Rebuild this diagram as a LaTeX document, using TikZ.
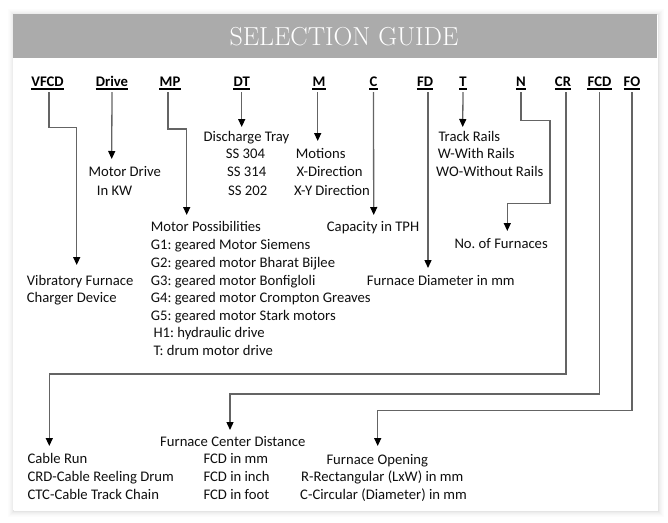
\documentclass[tikz,border=0pt]{standalone}
\usepackage{fontspec}
\usetikzlibrary{arrows.meta}
\newfontfamily\calfont{Carlito}
\frenchspacing
\definecolor{hdrgray}{RGB}{171,171,171}
\definecolor{linegray}{RGB}{100,100,100}
\definecolor{txt}{RGB}{15,15,15}
\tikzset{
  txtnode/.style={anchor=west, inner sep=0pt, text height=11pt, text depth=2pt, text=txt, font=\calfont\fontsize{14.67}{18}\selectfont\frenchspacing},
  codelbl/.style={anchor=base, inner sep=0pt, text height=11pt, text depth=5.5pt, text=black, font=\calfont\bfseries\fontsize{14.67}{18}\selectfont},
  ul/.style={black, line width=1.4pt},
  conn/.style={draw=linegray, line width=1.3pt, -{Triangle[length=8pt,width=7pt,color=black]}},
  plainconn/.style={draw=linegray, line width=1.3pt}
}
\begin{document}
\begin{tikzpicture}[x=1pt,y=-1pt]
\useasboundingbox (0,0) rectangle (668,522);
% shadow
\foreach \i/\o in {1/0.10,2/0.07,3/0.05,4/0.035,5/0.02,6/0.01}{
  \draw[black, opacity=\o, line width=1pt] (13-\i+0.5+1,14-\i+0.5+1) rectangle (657+\i-0.5+1,510+\i-0.5+1);
}
\fill[white] (13,14) rectangle (657,510);
\fill[hdrgray] (13,14) rectangle (657,58);
\node[text=white, inner sep=0pt, font=\rmfamily\fontsize{26}{30}\selectfont] (title) at (344,37) {SELECTION GUIDE};

% code labels
\node[codelbl] (vfcd) at (47.5,86.5) {VFCD};
\node[codelbl] (drive) at (112,86.5) {Drive};
\node[codelbl] (mp) at (170,86.5) {MP};
\node[codelbl] (dt) at (241.7,86.5) {DT};
\node[codelbl] (m) at (319,86.5) {M};
\node[codelbl] (c) at (373.5,86.5) {C};
\node[codelbl] (fd) at (425,86.5) {FD};
\node[codelbl] (t) at (463,86.5) {T};
\node[codelbl] (n) at (521,86.5) {N};
\node[codelbl] (cr) at (563,86.5) {CR};
\node[codelbl] (fcd) at (599.5,86.5) {FCD};
\node[codelbl] (fo) at (632,86.5) {FO};
\foreach \n in {vfcd,drive,mp,dt,m,c,fd,t,n,cr,fcd,fo}{
  \draw[ul] ([yshift=-2.5pt]\n.base west) -- ([yshift=-2.5pt]\n.base east);
}

% description texts
\node[txtnode] (md1) at (88.3,172.3) {Motor Drive};
\node[txtnode] (md2) at (96.7,190.7) {In KW};
\node[txtnode] (dt1) at (203.3,136.7) {Discharge Tray};
\node[txtnode] (dt2) at (225.7,154.3) {SS 304};
\node[txtnode] (dt3) at (227,172.3) {SS 314};
\node[txtnode] (dt4) at (228,190.7) {SS 202};
\node[txtnode] (mo1) at (295.7,154.3) {Motions};
\node[txtnode] (mo2) at (296.3,172.3) {X-Direction};
\node[txtnode] (mo3) at (294,190.7) {X-Y Direction};
\node[txtnode] (mp1) at (150.7,226.7) {Motor Possibilities};
\node[txtnode] (mp2) at (150.7,244.7) {G1: geared Motor Siemens};
\node[txtnode] (mp3) at (150.7,263) {G2: geared motor Bharat Bijlee};
\node[txtnode] (mp4) at (150.7,281) {G3: geared motor Bonfigloli};
\node[txtnode] (mp5) at (150.7,298) {G4: geared motor Crompton Greaves};
\node[txtnode] (mp6) at (150.7,315.5) {G5: geared motor Stark motors};
\node[txtnode] (mp7) at (153.3,333) {H1: hydraulic drive};
\node[txtnode] (mp8) at (153.3,351) {T: drum motor drive};
\node[txtnode] (vf1) at (26.7,281) {Vibratory Furnace};
\node[txtnode] (vf2) at (26.7,298) {Charger Device};
\node[txtnode] (cap) at (326.7,226.7) {Capacity in TPH};
\node[txtnode] (tr1) at (438.3,136.7) {Track Rails};
\node[txtnode] (tr2) at (437.7,154.3) {W-With Rails};
\node[txtnode] (tr3) at (436,172.3) {WO-Without Rails};
\node[txtnode] (nf) at (454.3,244.3) {No. of Furnaces};
\node[txtnode] (fdm) at (366.7,280.7) {Furnace Diameter in mm};
\node[txtnode] (cr1) at (27.3,459) {Cable Run};
\node[txtnode] (cr2) at (27.3,477) {CRD-Cable Reeling Drum};
\node[txtnode] (cr3) at (27.3,495) {CTC-Cable Track Chain};
\node[txtnode] (fc1) at (160,441.7) {Furnace Center Distance};
\node[txtnode] (fc2) at (203.3,459) {FCD in mm};
\node[txtnode] (fc3) at (203.3,477) {FCD in inch};
\node[txtnode] (fc4) at (203.3,495) {FCD in foot};
\node[txtnode] (fo1) at (326.3,459.5) {Furnace Opening};
\node[txtnode] (fo2) at (301,477) {R-Rectangular (LxW) in mm};
\node[txtnode] (fo3) at (300,495) {C-Circular (Diameter) in mm};

% arrow end points
\coordinate (tvfcd) at (76.7,265);
\coordinate (tdrive) at (111.7,159);
\coordinate (tmp) at (186.7,215);
\coordinate (tdt) at (241.7,127);
\coordinate (tm) at (317.7,141);
\coordinate (tc) at (373.7,215);
\coordinate (tfd) at (428,268);
\coordinate (tt) at (462.7,127);
\coordinate (tn) at (507.3,231);
\coordinate (tcr) at (49.3,446);
\coordinate (tfcd) at (230,430);
\coordinate (tfo) at (377.7,446);

% connectors
\draw[conn] ([xshift=1.5pt]vfcd.south) |- (tvfcd |- 0,127.7) -- (tvfcd);
\draw[conn] (drive.south) -- (tdrive);
\draw[conn] ([xshift=-2pt]mp.south) |- (tmp |- 0,129) -- (tmp);
\draw[conn] (dt.south) -- (tdt);
\draw[conn] ([xshift=-1.3pt]m.south) -- (tm);
\draw[conn] (c.south) -- (tc);
\draw[conn] ([xshift=3pt]fd.south) -- (tfd);
\draw[conn] (t.south) -- (tt);
\draw[conn] (n.south) |- (550,120.3) |- (tn |- 0,203.3) -- (tn);
\draw[conn] ([xshift=3pt]cr.south) |- (tcr |- 0,374) -- (tcr);
\draw[conn] (fcd.south) |- (tfcd |- 0,394) -- (tfcd);
\draw[conn] (fo.south) |- (tfo |- 0,410.3) -- (tfo);
\end{tikzpicture}
\end{document}
